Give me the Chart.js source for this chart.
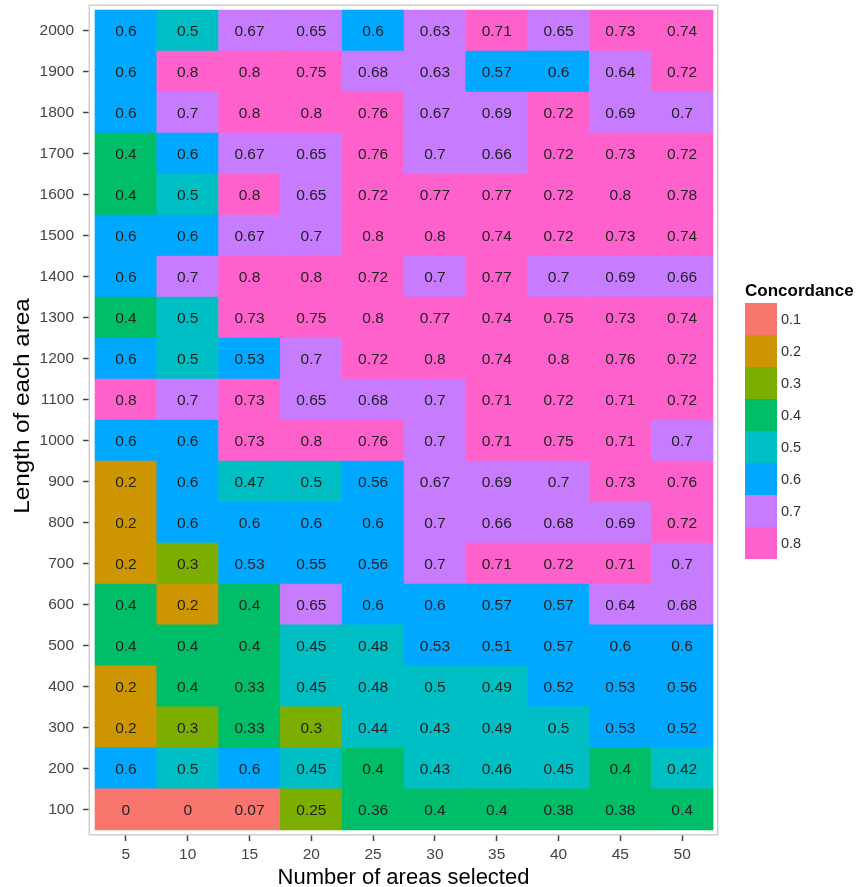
<!DOCTYPE html>
<html>
<head>
<meta charset="utf-8">
<title>Concordance heatmap</title>
<script src="https://cdn.jsdelivr.net/npm/chart.js@4.4.1/dist/chart.umd.min.js"></script>
<style>
  html, body { margin: 0; padding: 0; background: #fff; }
  canvas { display: block; }
</style>
</head>
<body>
<canvas id="heatmap" width="861" height="887"></canvas>
<script>
// columns: number of areas selected
const areaLabels = [5, 10, 15, 20, 25, 30, 35, 40, 45, 50];
// rows: length of each area (bottom to top)
const lengthLabels = [100, 200, 300, 400, 500, 600, 700, 800, 900, 1000,
  1100, 1200, 1300, 1400, 1500, 1600, 1700, 1800, 1900, 2000];

// concordance per row, one value per column
const c100  = [0, 0, 0.07, 0.25, 0.36, 0.4, 0.4, 0.38, 0.38, 0.4];
const c200  = [0.6, 0.5, 0.6, 0.45, 0.4, 0.43, 0.46, 0.45, 0.4, 0.42];
const c300  = [0.2, 0.3, 0.33, 0.3, 0.44, 0.43, 0.49, 0.5, 0.53, 0.52];
const c400  = [0.2, 0.4, 0.33, 0.45, 0.48, 0.5, 0.49, 0.52, 0.53, 0.56];
const c500  = [0.4, 0.4, 0.4, 0.45, 0.48, 0.53, 0.51, 0.57, 0.6, 0.6];
const c600  = [0.4, 0.2, 0.4, 0.65, 0.6, 0.6, 0.57, 0.57, 0.64, 0.68];
const c700  = [0.2, 0.3, 0.53, 0.55, 0.56, 0.7, 0.71, 0.72, 0.71, 0.7];
const c800  = [0.2, 0.6, 0.6, 0.6, 0.6, 0.7, 0.66, 0.68, 0.69, 0.72];
const c900  = [0.2, 0.6, 0.47, 0.5, 0.56, 0.67, 0.69, 0.7, 0.73, 0.76];
const c1000 = [0.6, 0.6, 0.73, 0.8, 0.76, 0.7, 0.71, 0.75, 0.71, 0.7];
const c1100 = [0.8, 0.7, 0.73, 0.65, 0.68, 0.7, 0.71, 0.72, 0.71, 0.72];
const c1200 = [0.6, 0.5, 0.53, 0.7, 0.72, 0.8, 0.74, 0.8, 0.76, 0.72];
const c1300 = [0.4, 0.5, 0.73, 0.75, 0.8, 0.77, 0.74, 0.75, 0.73, 0.74];
const c1400 = [0.6, 0.7, 0.8, 0.8, 0.72, 0.7, 0.77, 0.7, 0.69, 0.66];
const c1500 = [0.6, 0.6, 0.67, 0.7, 0.8, 0.8, 0.74, 0.72, 0.73, 0.74];
const c1600 = [0.4, 0.5, 0.8, 0.65, 0.72, 0.77, 0.77, 0.72, 0.8, 0.78];
const c1700 = [0.4, 0.6, 0.67, 0.65, 0.76, 0.7, 0.66, 0.72, 0.73, 0.72];
const c1800 = [0.6, 0.7, 0.8, 0.8, 0.76, 0.67, 0.69, 0.72, 0.69, 0.7];
const c1900 = [0.6, 0.8, 0.8, 0.75, 0.68, 0.63, 0.57, 0.6, 0.64, 0.72];
const c2000 = [0.6, 0.5, 0.67, 0.65, 0.6, 0.63, 0.71, 0.65, 0.73, 0.74];

const concordanceRows = [c100, c200, c300, c400, c500, c600, c700, c800, c900, c1000,
  c1100, c1200, c1300, c1400, c1500, c1600, c1700, c1800, c1900, c2000];

// legend bins (upper bound of each bin) and their colours
const binLabels = ['0.1', '0.2', '0.3', '0.4', '0.5', '0.6', '0.7', '0.8'];
const binColors = ['#F8766D', '#CD9600', '#7CAE00', '#00BE67', '#00BFC4', '#00A9FF', '#C77CFF', '#FF61CC'];

const FONT = '"Liberation Sans", Arial, Helvetica, sans-serif';
Chart.defaults.font.family = FONT;

// value -> bin, bins are closed on the right: (0.6, 0.7] etc.
function binIndex(v) {
  return Math.min(binColors.length - 1, Math.max(0, Math.ceil(v * 10 - 1e-6) - 1));
}

const datasets = lengthLabels.map((len, i) => ({
  label: String(len),
  data: areaLabels.map(a => ({ x: a, y: 1 })),
  concordance: concordanceRows[i],
  backgroundColor: concordanceRows[i].map(v => binColors[binIndex(v)]),
  borderWidth: 0,
  barPercentage: 1,
  categoryPercentage: 1
}));

// writes the concordance value in the middle of each tile
const cellText = {
  id: 'cellText',
  afterDatasetsDraw(chart) {
    const ctx = chart.ctx;
    ctx.save();
    ctx.font = '15.5px ' + FONT;
    ctx.fillStyle = '#222';
    ctx.textAlign = 'center';
    ctx.textBaseline = 'middle';
    chart.data.datasets.forEach((ds, i) => {
      chart.getDatasetMeta(i).data.forEach((el, j) => {
        const p = el.getProps(['x', 'y', 'base'], true);
        ctx.fillText(String(ds.concordance[j]), p.x, (p.y + p.base) / 2 + 1);
      });
    });
    ctx.restore();
  }
};

// grey panel frame, y title and ggplot style colour legend
const panelAndLegend = {
  id: 'panelAndLegend',
  afterDraw(chart) {
    const ctx = chart.ctx;
    const a = chart.chartArea;
    ctx.save();
    ctx.strokeStyle = '#cfcfcf';
    ctx.lineWidth = 1.5;
    ctx.strokeRect(a.left - 0.75, a.top - 0.75, a.right - a.left + 1.5, a.bottom - a.top + 1.5);

    // y axis title, a bit taller than wide like in the figure
    ctx.save();
    ctx.translate(23, 406);
    ctx.rotate(-Math.PI / 2);
    ctx.scale(1.1, 1);
    ctx.fillStyle = '#000';
    ctx.font = '22px ' + FONT;
    ctx.textAlign = 'center';
    ctx.textBaseline = 'middle';
    ctx.fillText('Length of each area', 0, 0);
    ctx.restore();

    const mid = (a.top + a.bottom) / 2;
    const lx = a.right + 28;
    const box = 32;
    const top = mid - 117;
    ctx.fillStyle = '#000';
    ctx.font = 'bold 17px ' + FONT;
    ctx.textAlign = 'left';
    ctx.textBaseline = 'middle';
    ctx.fillText('Concordance', lx, top - 12);
    ctx.font = '14.5px ' + FONT;
    binColors.forEach((c, k) => {
      ctx.fillStyle = c;
      ctx.fillRect(lx, top + k * box, box, box);
      ctx.fillStyle = '#333';
      ctx.fillText(binLabels[k], lx + box + 4, top + k * box + box / 2 + 1);
    });
    ctx.restore();
  }
};

// keep the panel exactly where the axes are fitted
function noPad(s) {
  s.paddingTop = 0;
  s.paddingBottom = 0;
  s.paddingLeft = 0;
  s.paddingRight = 0;
}

new Chart(document.getElementById('heatmap'), {
  type: 'bar',
  data: { datasets },
  options: {
    responsive: false,
    animation: false,
    layout: { padding: { top: 6, right: 144, left: 0, bottom: 0 } },
    plugins: {
      legend: { display: false },
      tooltip: {
        callbacks: {
          title: items => 'Length ' + items[0].dataset.label + ', areas ' + items[0].raw.x,
          label: item => 'Concordance: ' + item.dataset.concordance[item.dataIndex]
        }
      }
    },
    scales: {
      x: {
        type: 'linear',
        stacked: true,
        offset: false,
        min: 2.095,
        max: 52.82,
        afterBuildTicks: s => { s.ticks = areaLabels.map(v => ({ value: v })); },
        afterFit: s => { s.height = 53; noPad(s); },
        ticks: { color: '#444', font: { size: 15.5 }, padding: 4, maxRotation: 0 },
        grid: { offset: false, drawOnChartArea: false, drawTicks: true, tickLength: 7, tickWidth: 1.5, tickColor: '#444' },
        border: { display: false },
        title: {
          display: true,
          text: 'Number of areas selected',
          color: '#000',
          font: { size: 22, lineHeight: 0.8 },
          padding: 0
        }
      },
      y: {
        type: 'linear',
        stacked: true,
        min: -0.1,
        max: 20.1,
        afterBuildTicks: s => { s.ticks = lengthLabels.map((v, i) => ({ value: i + 0.5 })); },
        afterFit: s => { s.width = 90; noPad(s); },
        ticks: {
          color: '#444',
          font: { size: 15.5 },
          padding: 9,
          callback: (v, i) => String(lengthLabels[i])
        },
        grid: { drawOnChartArea: false, drawTicks: true, tickLength: 7, tickWidth: 1.5, tickColor: '#444' },
        border: { display: false },
        title: { display: false }
      }
    }
  },
  plugins: [cellText, panelAndLegend]
});
</script>
</body>
</html>
